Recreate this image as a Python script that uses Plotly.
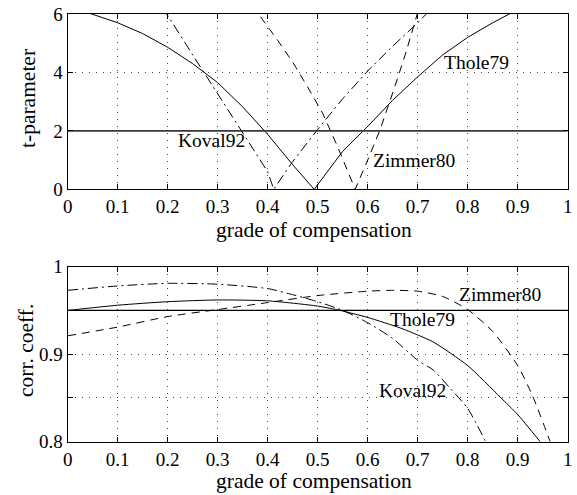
import plotly.graph_objects as go

# ---------------- data ----------------
# top panel: t-parameter vs grade of compensation
thole_t_x = [0.0, 0.048, 0.1, 0.15, 0.2, 0.25, 0.3, 0.35, 0.4, 0.45, 0.493,
             0.55, 0.6, 0.65, 0.7, 0.75, 0.8, 0.85, 0.9]
thole_t_y = [6.25, 6.0, 5.7, 5.33, 4.86, 4.3, 3.65, 2.82, 1.88, 0.84, 0.0,
             1.3, 2.15, 3.05, 3.85, 4.6, 5.2, 5.7, 6.15]

koval_t_x = [0.19, 0.2, 0.25, 0.3, 0.35, 0.4, 0.412, 0.45, 0.5, 0.55, 0.6, 0.65, 0.7, 0.72]
koval_t_y = [6.2, 5.95, 4.6, 3.27, 1.95, 0.6, 0.0, 0.95, 2.05, 3.1, 4.05, 4.9, 5.7, 6.05]

zimmer_t_x = [0.37, 0.39, 0.42, 0.45, 0.48, 0.51, 0.54, 0.575, 0.6, 0.625, 0.65, 0.675, 0.7]
zimmer_t_y = [6.3, 5.8, 5.1, 4.35, 3.5, 2.6, 1.45, 0.0, 1.0, 2.05, 3.3, 4.6, 6.05]

t_reference = 2.0

# bottom panel: correlation coefficient vs grade of compensation
thole_c_x = [0.0, 0.1, 0.2, 0.3, 0.4, 0.5, 0.545, 0.6, 0.665, 0.7, 0.731, 0.8, 0.865, 0.9, 0.945]
thole_c_y = [0.95, 0.956, 0.960, 0.962, 0.961, 0.955, 0.95, 0.942, 0.93, 0.922, 0.914,
             0.887, 0.851, 0.831, 0.8]

koval_c_x = [0.0, 0.1, 0.2, 0.3, 0.4, 0.45, 0.5, 0.55, 0.6, 0.65, 0.7, 0.731, 0.765, 0.8, 0.836]
koval_c_y = [0.973, 0.978, 0.981, 0.98, 0.975, 0.968, 0.96, 0.95, 0.936, 0.918, 0.893,
             0.882, 0.861, 0.838, 0.8]

zimmer_c_x = [0.0, 0.1, 0.2, 0.3, 0.4, 0.5, 0.6, 0.65, 0.7, 0.75, 0.8, 0.85, 0.9, 0.93, 0.965]
zimmer_c_y = [0.921, 0.931, 0.943, 0.951, 0.959, 0.967, 0.972, 0.973, 0.972, 0.966,
              0.951, 0.926, 0.887, 0.852, 0.8]

c_reference = 0.95

x_ticks = [0, 0.1, 0.2, 0.3, 0.4, 0.5, 0.6, 0.7, 0.8, 0.9, 1]
x_ticktext = ["0", "0.1", "0.2", "0.3", "0.4", "0.5", "0.6", "0.7", "0.8", "0.9", "1"]
t_ticks = [0, 2, 4, 6]
t_ticktext = ["0", "2", "4", "6"]
c_ticks = [0.8, 0.85, 0.9, 0.95, 1.0]
c_ticktext = ["0.8", "", "0.9", "", "1"]

# curve labels: (text, x, y)
top_labels = [("Koval92", 0.288, 1.68), ("Thole79", 0.818, 4.34), ("Zimmer80", 0.693, 0.97)]
bottom_labels = [("Zimmer80", 0.865, 0.9686), ("Thole79", 0.71, 0.94), ("Koval92", 0.69, 0.859)]

# ---------------- figure ----------------
FONT = "Liberation Serif"
W, H = 577, 495
x0_px, x1_px = 67.7, 567.7
top_px = (14.0, 189.3)
bot_px = (266.7, 441.7)

def ydom(p):
    return [1 - p[1] / H, 1 - p[0] / H]

fig = go.Figure()

dash_dash = "8px,6px"
dash_dashdot = "10px,4px,2px,4px"
lw = 1.0

# top
fig.add_trace(go.Scatter(x=thole_t_x, y=thole_t_y, mode="lines",
                         line=dict(color="black", width=lw), xaxis="x", yaxis="y"))
fig.add_trace(go.Scatter(x=koval_t_x, y=koval_t_y, mode="lines",
                         line=dict(color="black", width=lw, dash=dash_dashdot), xaxis="x", yaxis="y"))
fig.add_trace(go.Scatter(x=zimmer_t_x, y=zimmer_t_y, mode="lines",
                         line=dict(color="black", width=lw, dash=dash_dash), xaxis="x", yaxis="y"))
fig.add_trace(go.Scatter(x=[0, 1], y=[t_reference, t_reference], mode="lines",
                         line=dict(color="#3a3a3a", width=1.6), xaxis="x", yaxis="y"))

# bottom
fig.add_trace(go.Scatter(x=thole_c_x, y=thole_c_y, mode="lines",
                         line=dict(color="black", width=lw, shape="spline", smoothing=0.6),
                         xaxis="x2", yaxis="y2"))
fig.add_trace(go.Scatter(x=koval_c_x, y=koval_c_y, mode="lines",
                         line=dict(color="black", width=lw, dash=dash_dashdot, shape="spline", smoothing=0.6),
                         xaxis="x2", yaxis="y2"))
fig.add_trace(go.Scatter(x=zimmer_c_x, y=zimmer_c_y, mode="lines",
                         line=dict(color="black", width=lw, dash=dash_dash, shape="spline", smoothing=0.6),
                         xaxis="x2", yaxis="y2"))
fig.add_trace(go.Scatter(x=[0, 1], y=[c_reference, c_reference], mode="lines",
                         line=dict(color="black", width=1.3), xaxis="x2", yaxis="y2"))

tickfont = dict(family=FONT, size=19, color="black")
common_axis = dict(showline=True, linecolor="black", linewidth=1.2, mirror="ticks",
                   ticks="inside", ticklen=5, tickcolor="black", tickwidth=1,
                   showgrid=True, gridcolor="#444444", gridwidth=1, griddash="1px,6px",
                   zeroline=False, tickfont=tickfont, fixedrange=True, automargin=False)

xdom = [x0_px / W, x1_px / W]
fig.update_layout(
    template="none",
    width=W, height=H,
    margin=dict(l=0, r=0, t=0, b=0, pad=0, autoexpand=False),
    paper_bgcolor="white", plot_bgcolor="white",
    showlegend=False,
    font=dict(family=FONT, color="black"),
    xaxis=dict(domain=xdom, range=[0, 1], tickvals=x_ticks, ticktext=x_ticktext,
               anchor="y", **common_axis),
    yaxis=dict(domain=ydom(top_px), range=[0, 6], tickvals=t_ticks, ticktext=t_ticktext,
               anchor="x", **common_axis),
    xaxis2=dict(domain=xdom, range=[0, 1], tickvals=x_ticks, ticktext=x_ticktext,
                anchor="y2", **common_axis),
    yaxis2=dict(domain=ydom(bot_px), range=[0.8, 1.0], tickvals=c_ticks, ticktext=c_ticktext,
                anchor="x2", **common_axis),
)

labfont = dict(family=FONT, size=19.5, color="black")
for txt, lx, ly in top_labels:
    fig.add_annotation(text=txt, x=lx, y=ly, xref="x", yref="y", showarrow=False,
                       xanchor="center", yanchor="middle", font=labfont)
for txt, lx, ly in bottom_labels:
    fig.add_annotation(text=txt, x=lx, y=ly, xref="x2", yref="y2", showarrow=False,
                       xanchor="center", yanchor="middle", font=labfont)

titlefont = dict(family=FONT, size=21.5, color="black")
def px2paper(xp, yp):
    return xp / W, 1 - yp / H

# x titles: anchored by the bottom of their text box
for xp, yp in [(314, 244), (314, 495)]:
    px_, py_ = px2paper(xp, yp)
    fig.add_annotation(text="grade of compensation", x=px_, y=py_, xref="paper", yref="paper",
                       showarrow=False, xanchor="center", yanchor="bottom", font=titlefont)
# y titles
for txt, xp, yp in [("t-parameter", 28, 99), ("corr. coeff.", 26, 351)]:
    px_, py_ = px2paper(xp, yp)
    fig.add_annotation(text=txt, x=px_, y=py_, xref="paper", yref="paper", showarrow=False,
                       xanchor="center", yanchor="middle", textangle=-90, font=titlefont)

fig.write_html("out.html")
